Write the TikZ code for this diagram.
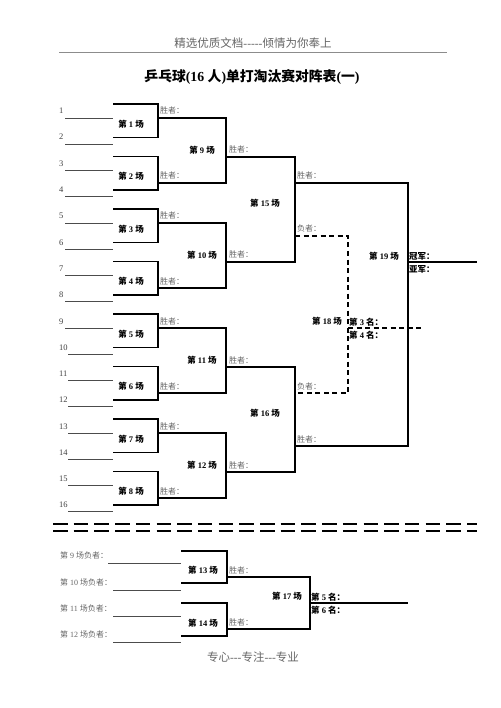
\documentclass[tikz,border=0pt]{standalone}
\usepackage{fontspec}
\setmainfont{Liberation Serif}[Ligatures=TeXOff]
\newfontfamily\cjk{Noto Sans CJK SC}
\usepackage{tikz}
\usetikzlibrary{positioning}
\newcommand{\chang}[1]{{\cjk 第} #1 {\cjk 场}}
\newcommand{\sheng}{{\cjk 胜者：}}
\newcommand{\fuzhe}{{\cjk 负者：}}
\newcommand{\ming}[1]{{\cjk 第} #1 {\cjk 名：}}

\begin{document}
\begin{tikzpicture}[x=1pt,y=-1pt,
  bk/.style={line width=1.4pt},
  pl/.style={line width=0.9pt,draw=black!70},
  lose/.style={line width=1.4pt,dash pattern=on 5pt off 3.5pt},
  sep/.style={line width=2pt,dash pattern=on 14.5pt off 6.2pt},
  num/.style={anchor=base west,inner sep=0pt,text=black!75,font=\fontsize{8.5}{10}\selectfont},
  small/.style={anchor=base west,inner sep=0pt,text=black!60,font=\fontsize{8}{10}\selectfont},
  mlab/.style={inner sep=0pt,font=\bfseries\fontsize{8.5}{10}\selectfont},
  rank/.style={inner sep=0pt,font=\bfseries\fontsize{8.5}{10}\selectfont}]
\fill[white] (0,0) rectangle (500,708);
\useasboundingbox (0,0) rectangle (500,708);
% header and title
\node[text=black!60,font=\fontsize{11.5}{13}\selectfont] (head) at (253,43) {{\cjk 精选优质文档}-----{\cjk 倾情为你奉上}};
\draw[black!45,line width=0.6pt] (59,52) -- (447,52);
\node[font=\bfseries\fontsize{13.8}{16}\selectfont] (title) at (252,77) {{\cjk 乒乓球}(16 {\cjk 人}){\cjk 单打淘汰赛对阵表}({\cjk 一})};
% first round: matches 1--8
\foreach \k in {1,...,8} {
  \pgfmathsetmacro\t{104+52.5*(\k-1)}
  \pgfmathtruncatemacro\a{2*\k-1}
  \pgfmathtruncatemacro\b{2*\k}
  \pgfmathsetmacro\xa{\a<10 ? 65 : 68}
  \pgfmathsetmacro\xb{\b<10 ? 65 : 68}
  \pgfmathsetmacro\w{\t+(mod(\k,2)==1 ? 14 : 26.5)}
  \draw[pl] (\xa,\t+14) -- (113,\t+14);
  \draw[pl] (\xb,\t+40) -- (113,\t+40);
  \node[num] (p\a) at (59,\t+10) {\a};
  \node[num] (p\b) at (59,\t+36) {\b};
  \draw[bk] (113,\t) -| (158,\t+33.5) -- (113,\t+33.5);
  \node[mlab] (m\k) at (131,\t+20) {\chang{\k}};
  \node[small] (w\k) at (160,\w-4) {\sheng};
}
% second round: matches 9--12
\foreach \j in {1,...,4} {
  \pgfmathsetmacro\t{118+105*(\j-1)}
  \pgfmathtruncatemacro\m{8+\j}
  \draw[bk] (158,\t) -| (226,\t+65) -- (158,\t+65);
  \node[mlab] (m\m) at (202,\t+32.5) {\chang{\m}};
  \node[small] (w\m) at (229,\t+35) {\sheng};
}
% semi-finals
\draw[bk] (226,157) -| (295,262) -- (226,262);
\draw[bk] (226,367) -| (295,472) -- (226,472);
\node[mlab] (m15) at (265,203) {\chang{15}};
\node[mlab] (m16) at (265,413) {\chang{16}};
\node[small] (w15) at (297,179) {\sheng};
\node[small] (l15) at (297,232) {\fuzhe};
\node[small] (l16) at (297,389) {\fuzhe};
\node[small] (w16) at (297,442) {\sheng};
% final and third place
\draw[bk] (295,183) -| (408,446) -- (295,446);
\draw[bk] (408,262) -- (477,262);
\draw[lose] (295,236) -| (348,393) -- (295,393);
\draw[lose] (348,328) -- (423,328);
\node[mlab] (m19) at (384,256) {\chang{19}};
\node[rank,anchor=base west] (champ) at (409,259) {\cjk 冠军：};
\node[rank,anchor=north west] (runner) at (409,265) {\cjk 亚军：};
\node[mlab] (m18) at (327,321) {\chang{18}};
\node[rank,anchor=base west] (third) at (349,325) {\ming{3}};
\node[rank,anchor=north west] (fourth) at (349,331) {\ming{4}};
% separator
\draw[sep] (53,524) -- (477,524);
\draw[sep] (53,531) -- (477,531);
% places 5 and 6
\foreach \k/\y/\x in {9/563/108,10/590/113,11/616/113,12/642/113} {
  \node[small] (q\k) at (60,\y-5) {{\cjk 第} \k{} {\cjk 场负者：}};
  \draw[pl] (\x,\y) -- (181,\y);
}
\draw[bk] (181,551) -| (227,583) -- (181,583);
\draw[bk] (181,603) -| (227,636) -- (181,636);
\node[mlab] (m13) at (203,570) {\chang{13}};
\node[mlab] (m14) at (203,623) {\chang{14}};
\draw[bk] (227,577) -| (310,629) -- (227,629);
\node[small] (w13) at (229,573) {\sheng};
\node[small] (w14) at (229,625) {\sheng};
\node[mlab] (m17) at (287,596) {\chang{17}};
\draw[bk] (310,603) -- (408,603);
\node[rank,anchor=base west] (fifth) at (311,600) {\ming{5}};
\node[rank,anchor=north west] (sixth) at (311,606) {\ming{6}};
% footer
\node[text=black!60,font=\fontsize{11.5}{13}\selectfont] (foot) at (253,657) {{\cjk 专心}---{\cjk 专注}---{\cjk 专业}};
\end{tikzpicture}
\end{document}
